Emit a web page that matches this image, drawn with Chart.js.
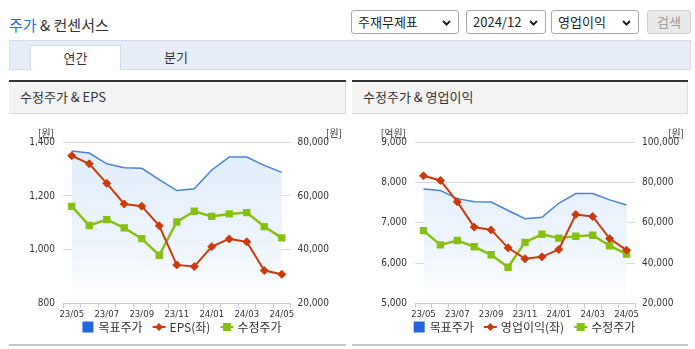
<!DOCTYPE html>
<html><head><meta charset="utf-8">
<script src="https://cdn.jsdelivr.net/npm/chart.js@4.4.1/dist/chart.umd.min.js"></script>
<style>
body{margin:0;width:695px;height:349px;background:#fff;font-family:'Noto Sans CJK KR','Noto Sans',sans-serif;position:relative;overflow:hidden;color:#333}
.abs{position:absolute}
#title{left:9px;top:13px;font-size:15px;line-height:24px;color:#333;white-space:nowrap}
#title span{color:#2a6bd4}
.sel{position:absolute;top:10px;height:24px;box-sizing:border-box;border:1px solid #a9a9a9;border-radius:3px;background:#fff;font-size:13px;line-height:22px;padding-left:6px;color:#222;white-space:nowrap}
.sel svg{position:absolute;right:7px;top:9px}
#btn{position:absolute;left:647px;top:10px;width:44px;height:24px;box-sizing:border-box;border:1px solid #cfcfcf;border-radius:3px;background:#e9e9e9;color:#9a9a9a;font-size:13px;line-height:22px;text-align:center}
#tabbar{left:9px;top:40px;width:682px;height:30px;box-sizing:border-box;background:#e8eef8;border:1px solid #d5dcea}
#tab1{left:30px;top:45px;width:91px;height:25px;box-sizing:border-box;background:#fff;border:1px solid #d5dcea;border-bottom:none;font-size:13px;text-align:center;line-height:23px}
#tab2{left:150px;top:45px;width:52px;font-size:13px;text-align:center;line-height:23px}
.panel{position:absolute;top:80px;height:266px;box-sizing:border-box;border-top:2px solid #333;border-bottom:2px solid #c8c8c8}
.phead{height:32px;box-sizing:border-box;background:#f3f3f3;border-bottom:1px solid #dcdcdc;border-right:1px solid #dcdcdc;font-size:13px;line-height:30px;padding-left:11px;white-space:nowrap}
.cv{position:absolute;top:113px}
</style>
</head><body>
<div id="title" class="abs"><span>주가</span> &amp; 컨센서스</div>
<div class="sel" style="left:351px;width:108px">주재무제표<svg width="9" height="6"><path d="M1 1 L4.5 4.5 L8 1" stroke="#222" stroke-width="2" fill="none"/></svg></div>
<div class="sel" style="left:466px;width:80px">2024/12<svg width="9" height="6"><path d="M1 1 L4.5 4.5 L8 1" stroke="#222" stroke-width="2" fill="none"/></svg></div>
<div class="sel" style="left:551px;width:88px">영업이익<svg width="9" height="6"><path d="M1 1 L4.5 4.5 L8 1" stroke="#222" stroke-width="2" fill="none"/></svg></div>
<div id="btn">검색</div>
<div id="tabbar" class="abs"></div>
<div id="tab1" class="abs">연간</div>
<div id="tab2" class="abs">분기</div>
<div class="panel" style="left:9px;width:337px"><div class="phead">수정주가 &amp; EPS</div></div>
<div class="panel" style="left:352px;width:336px"><div class="phead">수정주가 &amp; 영업이익</div></div>
<canvas id="c1" class="cv" width="337" height="230" style="left:9px;width:337px;height:230px"></canvas>
<canvas id="c2" class="cv" width="336" height="230" style="left:352px;width:336px;height:230px"></canvas>
<script>
// ---- data ----
const months = ['23/05','23/06','23/07','23/08','23/09','23/10','23/11','23/12','24/01','24/02','24/03','24/04','24/05'];
const targetPrice = [76800,76000,72000,70500,70300,66100,62000,62700,69700,74500,74500,71400,68800];
const adjPrice = [56100,49000,51200,48100,44100,37900,50300,54300,52400,53300,53800,48600,44400];
const eps = [1350,1320,1247,1170,1162,1089,943,937,1011,1040,1029,922,908];
const opProfit = [8167,8052,7520,6893,6823,6378,6109,6154,6338,7204,7157,6607,6321];
const leftTicks1 = [800,1000,1200,1400];
const rightTicks1 = [20000,40000,60000,80000];
const leftTicks2 = [5000,6000,7000,8000,9000];
const rightTicks2 = [20000,40000,60000,80000,100000];

const TICKFONT = {family:"'Liberation Sans Narrow','DejaVu Sans Condensed','Liberation Sans',sans-serif", size:10};
const XFONT = {family:"'Liberation Sans Narrow','DejaVu Sans Condensed','Liberation Sans',sans-serif", size:9.5};
const TCOL = '#333';
const BLUE = '#4a82d6', RED = '#cc3a0c', GREEN = '#88c010';

const fmt = v => Number(v).toLocaleString('en-US');

const unitPlugin = {
  id:'units',
  afterDraw(chart, args, opts){
    const c = chart.ctx, a = chart.chartArea;
    c.save();
    c.font = "10px 'Noto Sans CJK KR'";
    c.fillStyle = '#333';
    c.textBaseline = 'middle';
    c.textAlign = 'right';
    c.fillText(opts.left, a.left - 9, a.top - 9.5);
    c.fillText(opts.right, chart.width - 4, a.top - 9.5);
    c.restore();
  }
};

const legendPlugin = {
  id:'customLegend',
  afterDraw(chart, args, opts){
    const c = chart.ctx;
    c.save();
    c.font = "12px 'Noto Sans CJK KR'";
    c.textBaseline = 'middle';
    const items = chart.data.datasets.map(d => ({label:d.label, kind:d.legendKind, color:d.borderColor, style:d.pointStyle}));
    const mw = 13, g1 = 4, g2 = 10;
    let total = 0;
    items.forEach((it,i) => { it.w = c.measureText(it.label).width; total += mw + g1 + it.w + (i < items.length-1 ? g2 : 0); });
    let x = chart.width/2 + 4 - total/2;
    const cy = opts.y;
    items.forEach(it => {
      if (it.kind === 'box') {
        c.fillStyle = '#2266dd';
        c.fillRect(x + 1, cy - 5.5, 11, 11);
      } else {
        c.strokeStyle = it.color; c.lineWidth = 2;
        c.beginPath(); c.moveTo(x, cy); c.lineTo(x + mw, cy); c.stroke();
        c.fillStyle = it.color;
        c.beginPath();
        const mx = x + mw/2;
        if (it.style === 'rectRot') { c.moveTo(mx, cy-4); c.lineTo(mx+4, cy); c.lineTo(mx, cy+4); c.lineTo(mx-4, cy); c.closePath(); }
        else { c.rect(mx-4, cy-4, 8, 8); }
        c.fill();
      }
      c.fillStyle = '#333';
      c.textAlign = 'left';
      c.fillText(it.label, x + mw + g1, cy + 0.5);
      x += mw + g1 + it.w + g2;
    });
    c.restore();
  }
};

function grad(ctx){
  const ch = ctx.chart, a = ch.chartArea;
  if (!a) return 'rgba(0,0,0,0)';
  const g = ch.ctx.createLinearGradient(0, a.top, 0, a.bottom);
  g.addColorStop(0, '#e0edfb');
  g.addColorStop(0.6, '#edf4fd');
  g.addColorStop(1, '#ffffff');
  return g;
}

function makeChart(id, cfg){
  const datasets = [
    {label:'목표주가', legendKind:'box', data:targetPrice, yAxisID:'y2', borderColor:BLUE, borderWidth:1.5, backgroundColor:grad, fill:'start', pointRadius:0, tension:0, order:3},
    {label:cfg.barLabel, legendKind:'line', data:cfg.leftData, yAxisID:'y', borderColor:RED, borderWidth:2, backgroundColor:RED, pointStyle:'rectRot', pointRadius:4, pointBorderWidth:1, pointBackgroundColor:RED, pointBorderColor:RED, fill:false, order:1},
    {label:'수정주가', legendKind:'line', data:adjPrice, yAxisID:'y2', borderColor:GREEN, borderWidth:2.5, backgroundColor:GREEN, pointStyle:'rect', pointRadius:5.2, pointBorderWidth:0, pointBackgroundColor:GREEN, fill:false, order:2}
  ];
  return new Chart(document.getElementById(id), {
    type:'line',
    data:{labels:months, datasets},
    options:{
      responsive:false, animation:false, events:[],
      layout:{padding:{top:29.3, bottom:19.7, left:0, right:0}},
      plugins:{legend:{display:false}, tooltip:{enabled:false},
        units:{left:cfg.leftUnit, right:'[원]'},
        customLegend:{y:214}},
      scales:{
        x:{type:'category', offset:true,
          grid:{display:true, offset:true, drawOnChartArea:false, drawTicks:true, tickLength:5, color:'#c3cedc'},
          border:{display:true, color:'#c3cedc'},
          ticks:{autoSkip:false, maxRotation:0, padding:1, font:XFONT, color:TCOL,
            callback(v,i){ return i % 2 === 0 ? this.getLabelForValue(v) : ''; }},
          afterFit(s){ s.height = 20; }},
        y:{position:'left', min:cfg.leftTicks[0], max:cfg.leftTicks[cfg.leftTicks.length-1],
          afterBuildTicks(s){ s.ticks = cfg.leftTicks.map(v => ({value:v})); },
          ticks:{padding:8, font:TICKFONT, color:TCOL, callback:fmt},
          grid:{color:'#dadada', drawTicks:false, lineWidth:1},
          border:{display:false},
          afterFit(s){ s.width = cfg.lw; }},
        y2:{position:'right', min:cfg.rightTicks[0], max:cfg.rightTicks[cfg.rightTicks.length-1],
          afterBuildTicks(s){ s.ticks = cfg.rightTicks.map(v => ({value:v})); },
          ticks:{padding:7, font:TICKFONT, color:TCOL, callback:fmt},
          grid:{drawOnChartArea:false, drawTicks:false},
          border:{display:false},
          afterFit(s){ s.width = cfg.rw; }}
      }
    },
    plugins:[unitPlugin, legendPlugin]
  });
}

makeChart('c1', {barLabel:'EPS(좌)', leftData:eps, leftTicks:leftTicks1, rightTicks:rightTicks1, leftUnit:'[원]', lw:54, rw:55.5});
makeChart('c2', {barLabel:'영업이익(좌)', leftData:opProfit, leftTicks:leftTicks2, rightTicks:rightTicks2, leftUnit:'[억원]', lw:63, rw:53});
</script>
</body></html>
